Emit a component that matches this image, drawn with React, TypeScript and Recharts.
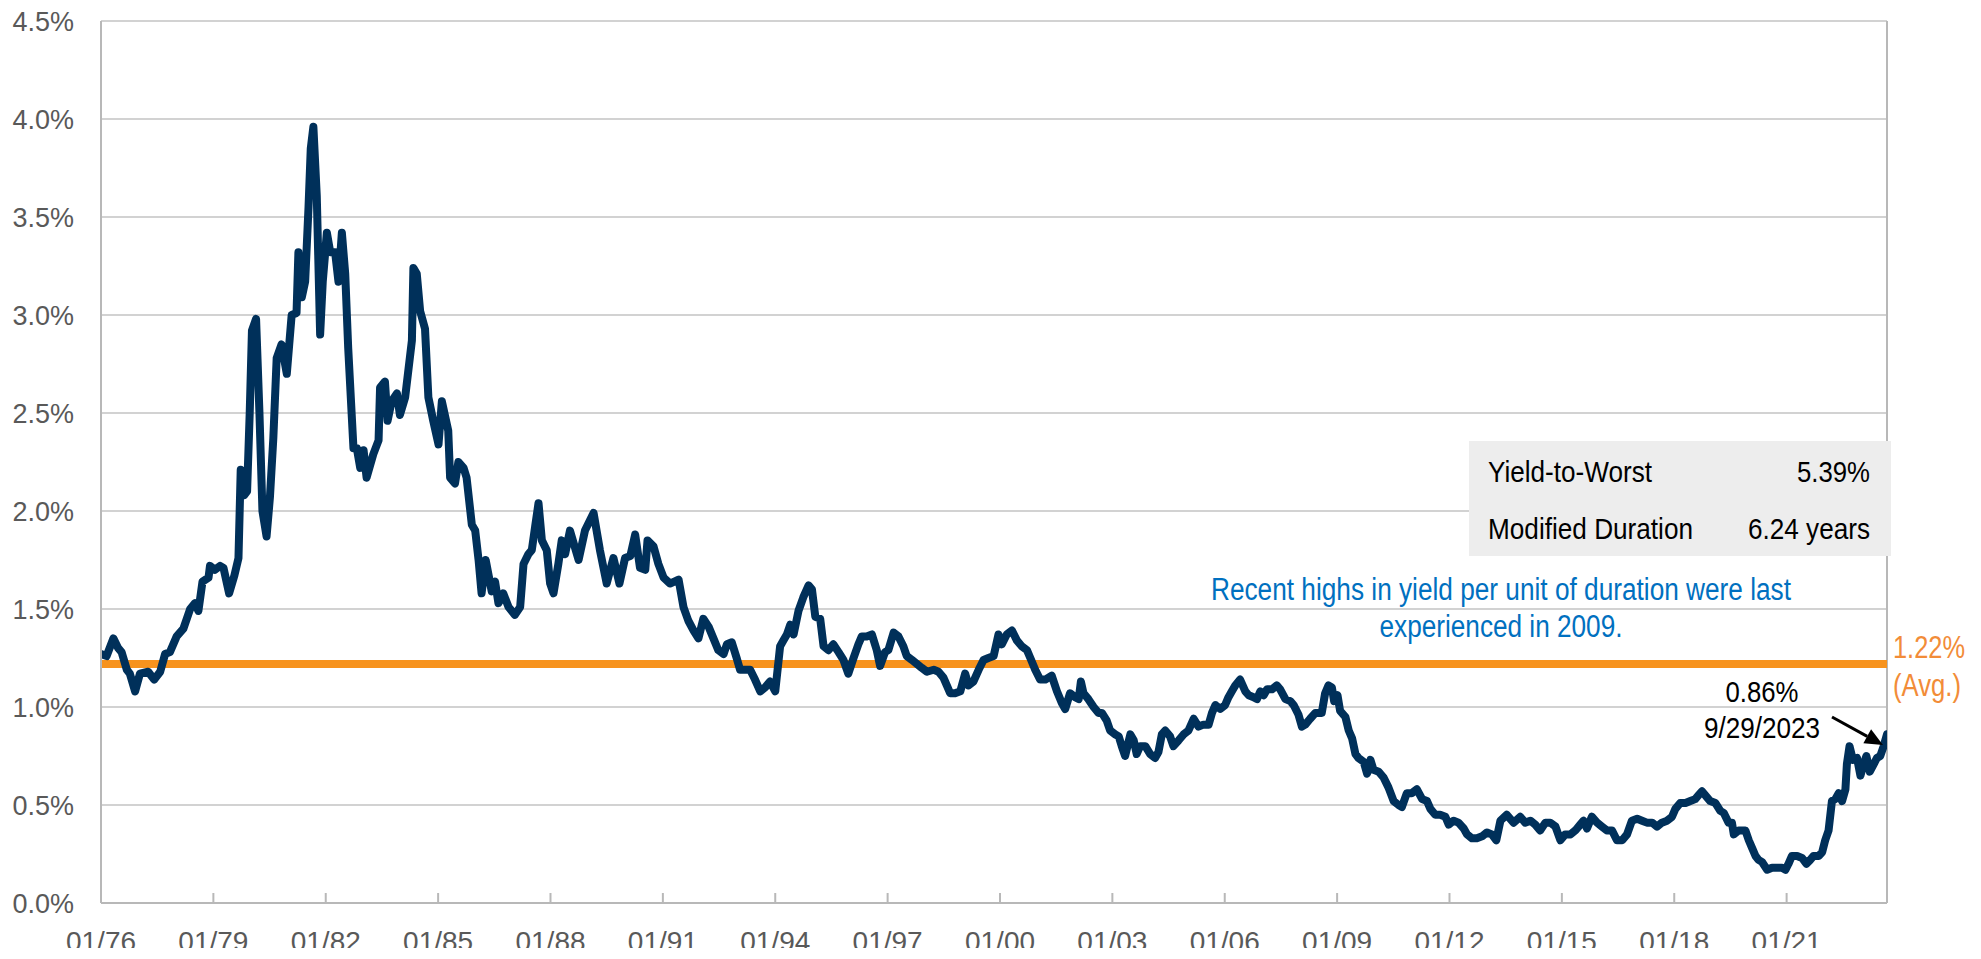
import React from 'react';
import { LineChart, Line, XAxis, YAxis, CartesianGrid, ReferenceLine } from 'recharts';

// Decimal year of each reading
const years = [
  1976.00, 1976.15, 1976.33, 1976.46, 1976.55, 1976.69, 1976.77, 1976.91, 1977.04, 1977.26,
  1977.42, 1977.58, 1977.71, 1977.84, 1978.02, 1978.20, 1978.38, 1978.51, 1978.60, 1978.71,
  1978.87, 1978.91, 1979.04, 1979.18, 1979.27, 1979.42, 1979.56, 1979.67, 1979.73, 1979.82,
  1979.90, 1979.97, 1980.03, 1980.14, 1980.23, 1980.31, 1980.42, 1980.51, 1980.60, 1980.69,
  1980.82, 1980.96, 1981.09, 1981.22, 1981.27, 1981.36, 1981.45, 1981.54, 1981.60, 1981.67,
  1981.76, 1981.85, 1981.92, 1982.03, 1982.12, 1982.25, 1982.34, 1982.43, 1982.52, 1982.60,
  1982.74, 1982.83, 1982.92, 1983.01, 1983.09, 1983.27, 1983.41, 1983.45, 1983.58, 1983.65,
  1983.76, 1983.90, 1983.98, 1984.12, 1984.30, 1984.34, 1984.43, 1984.52, 1984.65, 1984.74,
  1984.87, 1985.01, 1985.10, 1985.27, 1985.32, 1985.45, 1985.54, 1985.68, 1985.76, 1985.90,
  1985.99, 1986.08, 1986.16, 1986.27, 1986.34, 1986.43, 1986.52, 1986.61, 1986.74, 1986.88,
  1987.05, 1987.19, 1987.28, 1987.41, 1987.50, 1987.59, 1987.68, 1987.77, 1987.90, 1987.99,
  1988.08, 1988.21, 1988.30, 1988.39, 1988.52, 1988.75, 1988.92, 1989.15, 1989.32, 1989.50,
  1989.68, 1989.84, 1989.99, 1990.13, 1990.26, 1990.39, 1990.53, 1990.59, 1990.75, 1990.88,
  1991.02, 1991.19, 1991.42, 1991.55, 1991.68, 1991.82, 1991.95, 1992.08, 1992.22, 1992.35,
  1992.48, 1992.62, 1992.71, 1992.84, 1992.97, 1993.06, 1993.20, 1993.33, 1993.46, 1993.60,
  1993.73, 1993.86, 1994.00, 1994.13, 1994.22, 1994.31, 1994.40, 1994.49, 1994.62, 1994.75,
  1994.89, 1994.98, 1995.07, 1995.20, 1995.29, 1995.42, 1995.55, 1995.69, 1995.82, 1995.95,
  1996.09, 1996.22, 1996.31, 1996.44, 1996.58, 1996.71, 1996.80, 1996.93, 1997.02, 1997.16,
  1997.29, 1997.42, 1997.51, 1997.65, 1997.78, 1997.91, 1998.05, 1998.23, 1998.36, 1998.49,
  1998.58, 1998.67, 1998.80, 1998.94, 1999.07, 1999.16, 1999.29, 1999.43, 1999.56, 1999.69,
  1999.83, 1999.96, 2000.05, 2000.18, 2000.32, 2000.45, 2000.58, 2000.72, 2000.81, 2000.94,
  2001.07, 2001.21, 2001.38, 2001.52, 2001.65, 2001.74, 2001.87, 2002.01, 2002.10, 2002.16,
  2002.23, 2002.36, 2002.50, 2002.63, 2002.72, 2002.85, 2002.94, 2003.08, 2003.17, 2003.25,
  2003.34, 2003.48, 2003.57, 2003.65, 2003.74, 2003.88, 2004.01, 2004.14, 2004.23, 2004.32,
  2004.41, 2004.54, 2004.63, 2004.77, 2004.90, 2005.03, 2005.17, 2005.30, 2005.43, 2005.57,
  2005.66, 2005.75, 2005.88, 2006.01, 2006.10, 2006.19, 2006.28, 2006.41, 2006.55, 2006.64,
  2006.77, 2006.86, 2006.95, 2007.04, 2007.13, 2007.26, 2007.39, 2007.48, 2007.62, 2007.75,
  2007.84, 2007.97, 2008.06, 2008.15, 2008.28, 2008.42, 2008.59, 2008.68, 2008.77, 2008.86,
  2008.92, 2009.01, 2009.08, 2009.22, 2009.31, 2009.40, 2009.49, 2009.57, 2009.71, 2009.80,
  2009.89, 2009.97, 2010.11, 2010.24, 2010.37, 2010.51, 2010.64, 2010.73, 2010.86, 2010.99,
  2011.13, 2011.27, 2011.40, 2011.49, 2011.62, 2011.75, 2011.89, 2011.98, 2012.11, 2012.24,
  2012.38, 2012.47, 2012.60, 2012.73, 2012.87, 2013.00, 2013.13, 2013.25, 2013.36, 2013.53,
  2013.71, 2013.89, 2014.02, 2014.16, 2014.29, 2014.42, 2014.56, 2014.69, 2014.83, 2014.96,
  2015.09, 2015.23, 2015.36, 2015.49, 2015.58, 2015.67, 2015.80, 2015.94, 2016.07, 2016.20,
  2016.34, 2016.47, 2016.61, 2016.74, 2016.87, 2017.01, 2017.14, 2017.27, 2017.41, 2017.54,
  2017.67, 2017.81, 2017.94, 2018.03, 2018.16, 2018.30, 2018.43, 2018.56, 2018.65, 2018.74,
  2018.87, 2018.96, 2019.10, 2019.23, 2019.32, 2019.45, 2019.54, 2019.59, 2019.72, 2019.90,
  2019.99, 2020.08, 2020.17, 2020.25, 2020.34, 2020.48, 2020.61, 2020.74, 2020.88, 2020.97,
  2021.05, 2021.14, 2021.28, 2021.41, 2021.53, 2021.63, 2021.72, 2021.86, 2021.95, 2022.03,
  2022.12, 2022.21, 2022.30, 2022.39, 2022.48, 2022.57, 2022.61, 2022.68, 2022.77, 2022.88,
  2022.97, 2023.06, 2023.13, 2023.22, 2023.33, 2023.41, 2023.50, 2023.59, 2023.68,
];

// Yield per unit of duration (%)
const yieldPerDuration = [
  1.27, 1.26, 1.35, 1.30, 1.28, 1.19, 1.17, 1.08, 1.17, 1.18,
  1.14, 1.18, 1.27, 1.28, 1.36, 1.40, 1.50, 1.53, 1.49, 1.64,
  1.66, 1.72, 1.70, 1.72, 1.71, 1.58, 1.67, 1.76, 2.21, 2.08,
  2.10, 2.50, 2.92, 2.98, 2.50, 2.00, 1.87, 2.07, 2.37, 2.78,
  2.85, 2.70, 3.00, 3.01, 3.32, 3.09, 3.17, 3.55, 3.85, 3.96,
  3.61, 2.90, 3.17, 3.42, 3.32, 3.32, 3.17, 3.42, 3.21, 2.83,
  2.32, 2.32, 2.22, 2.31, 2.17, 2.29, 2.36, 2.63, 2.66, 2.46,
  2.56, 2.60, 2.49, 2.58, 2.87, 3.24, 3.21, 3.02, 2.93, 2.58,
  2.46, 2.34, 2.56, 2.41, 2.17, 2.14, 2.25, 2.22, 2.17, 1.93,
  1.90, 1.75, 1.58, 1.75, 1.68, 1.59, 1.64, 1.53, 1.58, 1.51,
  1.47, 1.51, 1.73, 1.78, 1.80, 1.92, 2.04, 1.85, 1.80, 1.63,
  1.58, 1.73, 1.85, 1.78, 1.90, 1.75, 1.90, 1.99, 1.80, 1.63,
  1.76, 1.63, 1.76, 1.77, 1.88, 1.71, 1.70, 1.85, 1.82, 1.73,
  1.66, 1.63, 1.65, 1.51, 1.44, 1.39, 1.35, 1.45, 1.41, 1.35,
  1.29, 1.27, 1.32, 1.33, 1.25, 1.19, 1.19, 1.19, 1.14, 1.08,
  1.10, 1.13, 1.08, 1.31, 1.34, 1.37, 1.42, 1.37, 1.49, 1.56,
  1.62, 1.60, 1.46, 1.45, 1.31, 1.29, 1.32, 1.28, 1.24, 1.17,
  1.25, 1.32, 1.36, 1.36, 1.37, 1.29, 1.21, 1.28, 1.29, 1.38,
  1.36, 1.31, 1.26, 1.24, 1.22, 1.20, 1.18, 1.19, 1.18, 1.15,
  1.11, 1.07, 1.07, 1.08, 1.17, 1.11, 1.13, 1.19, 1.24, 1.25,
  1.26, 1.37, 1.32, 1.37, 1.39, 1.34, 1.31, 1.29, 1.25, 1.19,
  1.14, 1.14, 1.16, 1.08, 1.02, 0.99, 1.07, 1.05, 1.04, 1.13,
  1.07, 1.04, 1.00, 0.97, 0.97, 0.93, 0.88, 0.86, 0.85, 0.80,
  0.75, 0.86, 0.83, 0.76, 0.80, 0.80, 0.76, 0.74, 0.77, 0.86,
  0.88, 0.85, 0.80, 0.83, 0.86, 0.88, 0.94, 0.90, 0.91, 0.91,
  0.97, 1.01, 0.99, 1.01, 1.05, 1.08, 1.11, 1.14, 1.08, 1.06,
  1.05, 1.04, 1.08, 1.06, 1.09, 1.09, 1.11, 1.09, 1.04, 1.03,
  1.01, 0.96, 0.90, 0.91, 0.94, 0.97, 0.97, 1.07, 1.11, 1.10,
  1.03, 1.06, 0.98, 0.95, 0.88, 0.84, 0.76, 0.74, 0.72, 0.66,
  0.73, 0.68, 0.67, 0.64, 0.59, 0.52, 0.50, 0.49, 0.56, 0.56,
  0.58, 0.53, 0.52, 0.48, 0.45, 0.45, 0.44, 0.40, 0.42, 0.41,
  0.38, 0.35, 0.33, 0.33, 0.34, 0.36, 0.35, 0.32, 0.42, 0.45,
  0.41, 0.44, 0.41, 0.42, 0.40, 0.37, 0.41, 0.41, 0.39, 0.32,
  0.35, 0.35, 0.37, 0.40, 0.42, 0.38, 0.44, 0.41, 0.39, 0.37,
  0.37, 0.32, 0.32, 0.35, 0.42, 0.43, 0.42, 0.41, 0.41, 0.39,
  0.41, 0.42, 0.44, 0.48, 0.51, 0.51, 0.52, 0.53, 0.55, 0.57,
  0.54, 0.52, 0.51, 0.47, 0.46, 0.41, 0.41, 0.35, 0.37, 0.37,
  0.32, 0.28, 0.24, 0.22, 0.21, 0.17, 0.18, 0.18, 0.18, 0.17,
  0.20, 0.24, 0.24, 0.23, 0.20, 0.22, 0.24, 0.24, 0.26, 0.32,
  0.37, 0.52, 0.53, 0.56, 0.52, 0.58, 0.71, 0.80, 0.73, 0.74,
  0.65, 0.71, 0.75, 0.67, 0.71, 0.74, 0.75, 0.80, 0.86,
];

const xTickYears = [1976, 1979, 1982, 1985, 1988, 1991, 1994, 1997, 2000, 2003, 2006, 2009, 2012, 2015, 2018, 2021];
const yTicks = [0, 0.5, 1.0, 1.5, 2.0, 2.5, 3.0, 3.5, 4.0, 4.5];
const averageValue = 1.22;
const averageLabels = ['1.22%', '(Avg.)'];
const lastPointLabels = ['0.86%', '9/29/2023'];
const statNames = ['Yield-to-Worst', 'Modified Duration'];
const statValues = ['5.39%', '6.24 years'];
const noteLines = ['Recent highs in yield per unit of duration were last', 'experienced in 2009.'];

const data = years.map((x, i) => ({ x, v: yieldPerDuration[i] }));

const W = 1965;
const H = 940;
const AXIS_FONT = "'Liberation Sans', Arial, sans-serif";
const NARROW_FONT = "'Liberation Sans Narrow', 'Arial Narrow', 'Liberation Sans', Arial, sans-serif";

export default function App() {
  // arrow geometry (annotation)
  const ax1 = 1824, ay1 = 709, tx = 1875, ty = 737;
  const dx = tx - ax1, dy = ty - ay1;
  const len = Math.sqrt(dx * dx + dy * dy);
  const ux = dx / len, uy = dy / len;
  const hl = 18, hw = 8;
  const bx = tx - ux * hl, by = ty - uy * hl;
  const p1 = `${tx},${ty}`;
  const p2 = `${bx - uy * hw},${by + ux * hw}`;
  const p3 = `${bx + uy * hw},${by - ux * hw}`;

  return (
    <div style={{ position: 'relative', width: W, height: H }}>
      <style>{`.recharts-surface{overflow:visible}`}</style>
      <LineChart width={W} height={H} data={data} margin={{ top: 13, right: 86, left: 0, bottom: 0 }}>
        <CartesianGrid horizontal vertical={false} stroke="#C3C3C3" strokeWidth={1.5} />
        <XAxis
          dataKey="x"
          type="number"
          domain={[1976, years[years.length - 1]]}
          ticks={xTickYears}
          interval={0}
          allowDataOverflow
          height={45}
          tickSize={-10}
          tickMargin={38}
          axisLine={{ stroke: '#B8B8B8', strokeWidth: 2 }}
          tickLine={{ stroke: '#B8B8B8', strokeWidth: 2 }}
          tick={{ fill: '#595959', fontSize: 28, fontFamily: AXIS_FONT }}
          tickFormatter={(y: number) => '01/' + String(y).slice(2)}
        />
        <YAxis
          type="number"
          domain={[0, 4.5]}
          ticks={yTicks}
          interval={0}
          width={93}
          tickLine={false}
          tickSize={0}
          tickMargin={27}
          axisLine={{ stroke: '#B8B8B8', strokeWidth: 2 }}
          tick={{ fill: '#595959', fontSize: 27, fontFamily: AXIS_FONT }}
          tickFormatter={(v: number) => v.toFixed(1) + '%'}
        />
        <ReferenceLine x={years[years.length - 1]} stroke="#B8B8B8" strokeWidth={2} />
        <ReferenceLine y={averageValue} stroke="#F7931E" strokeWidth={8} />
        <Line
          dataKey="v"
          type="linear"
          stroke="#00305A"
          strokeWidth={8}
          dot={false}
          activeDot={false}
          strokeLinejoin="round"
          strokeLinecap="round"
          isAnimationActive={false}
        />
      </LineChart>
      <svg
        width={W}
        height={H}
        style={{ position: 'absolute', left: 0, top: 0, overflow: 'visible', pointerEvents: 'none' }}
      >
        <rect x={1461} y={433} width={422} height={115} fill="#EDEDED" />
        <g fontFamily={NARROW_FONT} fontSize={30} fill="#000000">
          <text x={1480} y={474} textLength={164} lengthAdjust="spacingAndGlyphs">{statNames[0]}</text>
          <text x={1862} y={474} textAnchor="end" textLength={73} lengthAdjust="spacingAndGlyphs">{statValues[0]}</text>
          <text x={1480} y={531} textLength={205} lengthAdjust="spacingAndGlyphs">{statNames[1]}</text>
          <text x={1862} y={531} textAnchor="end" textLength={122} lengthAdjust="spacingAndGlyphs">{statValues[1]}</text>
        </g>
        <g fontFamily={NARROW_FONT} fontSize={31} fill="#0070C0">
          <text x={1493} y={592} textAnchor="middle" textLength={580} lengthAdjust="spacingAndGlyphs">{noteLines[0]}</text>
          <text x={1493} y={629} textAnchor="middle" textLength={243} lengthAdjust="spacingAndGlyphs">{noteLines[1]}</text>
        </g>
        <g fontFamily={NARROW_FONT} fontSize={31} fill="#F28C38">
          <text x={1885} y={650} textLength={72} lengthAdjust="spacingAndGlyphs">{averageLabels[0]}</text>
          <text x={1885} y={688} textLength={68} lengthAdjust="spacingAndGlyphs">{averageLabels[1]}</text>
        </g>
        <g fontFamily={NARROW_FONT} fontSize={30} fill="#000000">
          <text x={1754} y={694} textAnchor="middle" textLength={73} lengthAdjust="spacingAndGlyphs">{lastPointLabels[0]}</text>
          <text x={1754} y={730} textAnchor="middle" textLength={116} lengthAdjust="spacingAndGlyphs">{lastPointLabels[1]}</text>
        </g>
        <line x1={ax1} y1={ay1} x2={bx} y2={by} stroke="#000000" strokeWidth={3} />
        <polygon points={`${p1} ${p2} ${p3}`} fill="#000000" />
      </svg>
    </div>
  );
}
